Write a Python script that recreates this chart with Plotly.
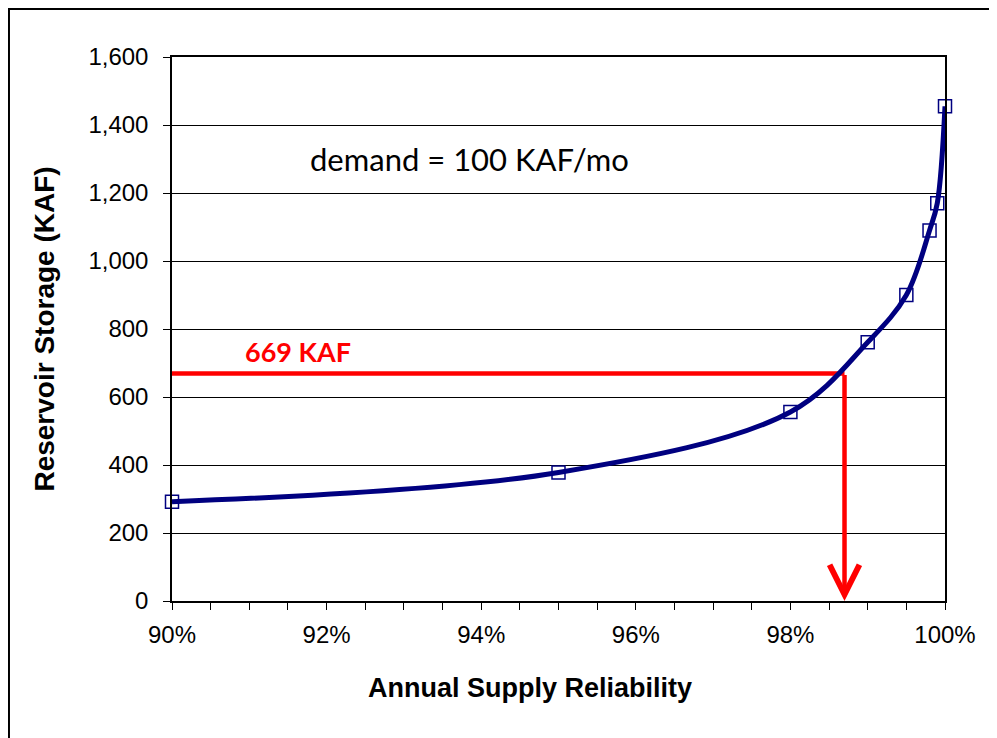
import plotly.graph_objects as go

# Data
reliability = [90, 95, 98, 99, 99.5, 99.8, 99.9, 100]          # % annual supply reliability
storage = [292, 378, 556, 761, 900, 1090, 1170, 1455]          # KAF
target_storage = 669                                           # KAF
target_reliability = 98.7                                      # %
x_ticks = [90, 92, 94, 96, 98, 100]
y_ticks = [0, 200, 400, 600, 800, 1000, 1200, 1400, 1600]

NAVY = "#000080"
RED = "#FF0000"

fig = go.Figure()

# red guide: horizontal line from axis to the curve
fig.add_trace(go.Scatter(
    x=[reliability[0], target_reliability], y=[target_storage, target_storage],
    mode="lines", line=dict(color=RED, width=4.5), hoverinfo="skip", showlegend=False,
    cliponaxis=False,
))

fig.add_trace(go.Scatter(
    x=reliability, y=storage, mode="lines+markers",
    line=dict(color=NAVY, width=5, shape="spline", smoothing=1),
    marker=dict(symbol="square-open", size=13, color=NAVY, line=dict(width=1.5, color=NAVY)),
    showlegend=False, cliponaxis=False,
))

# vertical arrow down to the x axis
fig.add_annotation(
    x=target_reliability, y=0, ax=target_reliability, ay=target_storage,
    xref="x", yref="y", axref="x", ayref="y",
    showarrow=True, arrowhead=5, arrowsize=1.3, arrowwidth=4.5, arrowcolor=RED, text="",
)

fig.add_annotation(
    x=91.63, y=target_storage, xref="x", yref="y", yshift=22,
    text="<b>669 KAF</b>", showarrow=False,
    font=dict(family="Lato, Liberation Sans, sans-serif", size=27, color=RED),
)

fig.add_annotation(
    x=93.85, y=1300, xref="x", yref="y",
    text="demand = 100 KAF/mo", showarrow=False,
    font=dict(family="Lato, Liberation Sans, sans-serif", size=31, color="black"),
)

# x-axis title (slightly left of centre, as in the reference)
fig.add_annotation(
    x=0.463, y=-0.16, xref="paper", yref="paper", xanchor="center", yanchor="middle",
    text="<b>Annual Supply Reliability</b>", showarrow=False,
    font=dict(family="Liberation Sans, Arial, sans-serif", size=27, color="black"),
)

# outer frame: only top and left edges are visible in the reference
fig.add_shape(type="path", xref="paper", yref="paper",
              path="M 1.09 1.0883 L -0.2109 1.0883 L -0.2109 -0.30",
              line=dict(color="black", width=2), layer="below")

fig.update_layout(
    width=997, height=738,
    margin=dict(l=164, r=60, t=49, b=145),
    paper_bgcolor="white", plot_bgcolor="white",
    font=dict(family="Liberation Sans, Arial, sans-serif", color="black"),
    xaxis=dict(
        range=[90, 100], tickvals=x_ticks, ticktext=[f"{v}%" for v in x_ticks],
        showgrid=False, zeroline=False,
        showline=True, linecolor="black", linewidth=1.5, mirror=True,
        ticks="outside", ticklen=7, tickwidth=1, tickcolor="black",
        minor=dict(dtick=0.5, ticks="outside", ticklen=7, tickwidth=1, tickcolor="black", showgrid=False),
        tickfont=dict(size=24), ticklabelstandoff=4,
    ),
    yaxis=dict(
        range=[0, 1600], tickvals=y_ticks, tickformat=",",
        showgrid=True, gridcolor="black", gridwidth=1, zeroline=False,
        showline=True, linecolor="black", linewidth=1.5, mirror=True,
        ticks="outside", ticklen=7, tickwidth=1, tickcolor="black",
        tickfont=dict(size=24), ticklabelstandoff=10,
        title=dict(text="<b>Reservoir Storage (KAF)</b>", font=dict(size=28), standoff=26),
    ),
)

fig.write_html("out.html")
